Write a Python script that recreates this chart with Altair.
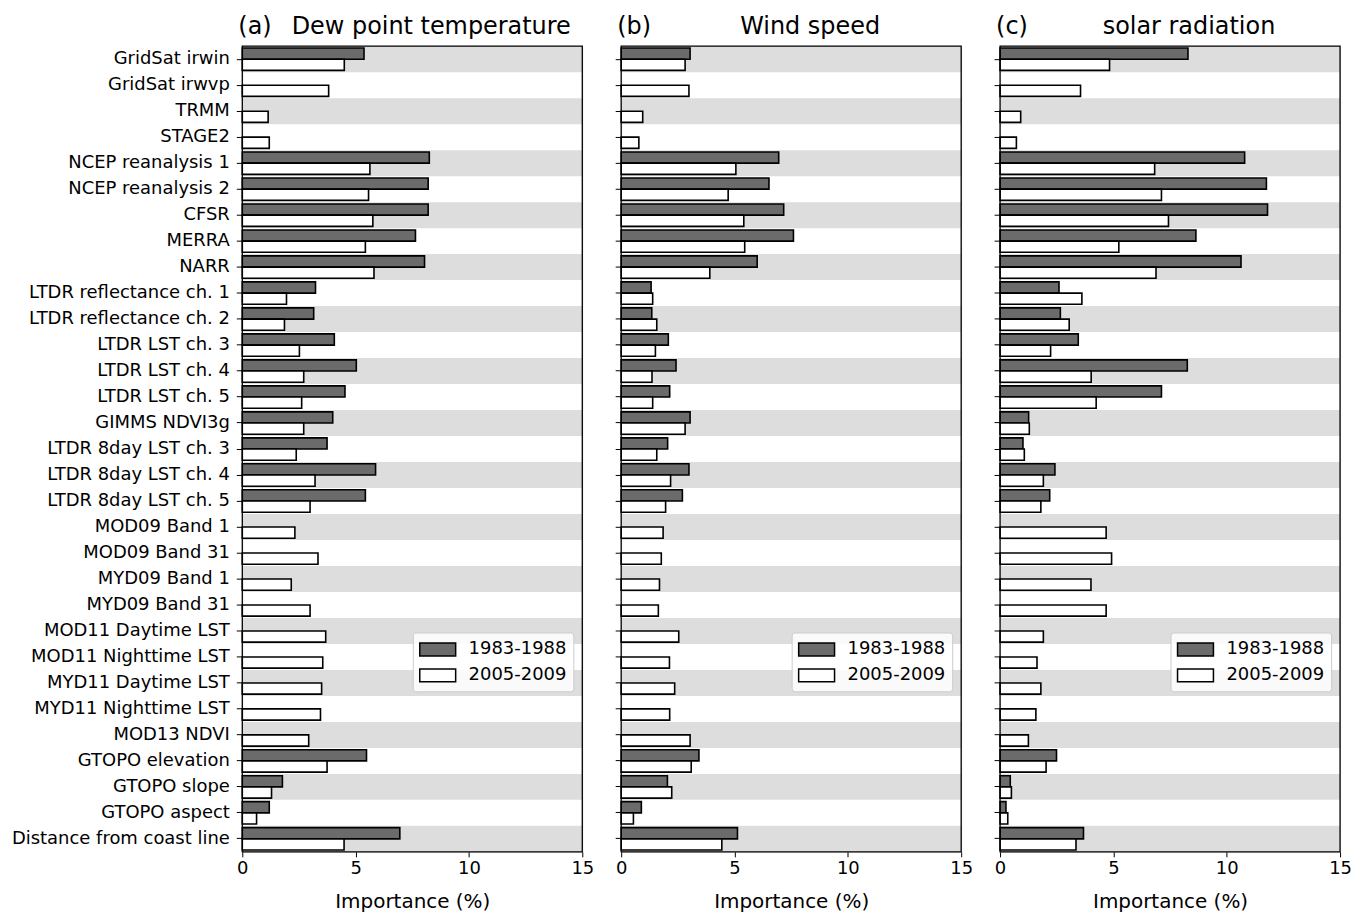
import altair as alt
import pandas as pd

categories = [
    "GridSat irwin", "GridSat irwvp", "TRMM", "STAGE2",
    "NCEP reanalysis 1", "NCEP reanalysis 2", "CFSR", "MERRA", "NARR",
    "LTDR reflectance ch. 1", "LTDR reflectance ch. 2",
    "LTDR LST ch. 3", "LTDR LST ch. 4", "LTDR LST ch. 5", "GIMMS NDVI3g",
    "LTDR 8day LST ch. 3", "LTDR 8day LST ch. 4", "LTDR 8day LST ch. 5",
    "MOD09 Band 1", "MOD09 Band 31", "MYD09 Band 1", "MYD09 Band 31",
    "MOD11 Daytime LST", "MOD11 Nighttime LST", "MYD11 Daytime LST", "MYD11 Nighttime LST",
    "MOD13 NDVI", "GTOPO elevation", "GTOPO slope", "GTOPO aspect",
    "Distance from coast line",
]
periods = ["1983-1988", "2005-2009"]

N9 = [None] * 9
dew_1983 = [5.37, None, None, None, 8.25, 8.20, 8.20, 7.64, 8.04, 3.23, 3.15, 4.06, 5.03, 4.53,
            3.99, 3.74, 5.88, 5.43] + N9 + [5.48, 1.77, 1.19, 6.95]
dew_2005 = [4.50, 3.81, 1.14, 1.19, 5.63, 5.57, 5.76, 5.43, 5.81, 1.95, 1.86, 2.52, 2.71, 2.62,
            2.71, 2.38, 3.21, 2.99, 2.32, 3.34, 2.16, 2.99, 3.68, 3.55, 3.50, 3.45, 2.93, 3.74,
            1.29, 0.63, 4.49]
wind_1983 = [3.04, None, None, None, 6.95, 6.52, 7.17, 7.60, 6.00, 1.32, 1.35, 2.08, 2.42, 2.14,
             3.04, 2.05, 2.99, 2.70] + N9 + [3.43, 2.04, 0.89, 5.13]
wind_2005 = [2.82, 2.99, 0.95, 0.78, 5.06, 4.72, 5.41, 5.45, 3.91, 1.39, 1.57, 1.51, 1.36, 1.39,
             2.82, 1.57, 2.18, 1.96, 1.85, 1.77, 1.69, 1.64, 2.54, 2.13, 2.36, 2.14, 3.04, 3.09,
             2.23, 0.54, 4.44]
solar_1983 = [8.29, None, None, None, 10.79, 11.75, 11.80, 8.64, 10.63, 2.60, 2.66, 3.45, 8.26, 7.12,
              1.26, 1.01, 2.42, 2.19] + N9 + [2.49, 0.45, 0.26, 3.68]
solar_2005 = [4.83, 3.55, 0.91, 0.72, 6.82, 7.12, 7.43, 5.24, 6.88, 3.61, 3.05, 2.23, 4.02, 4.24,
              1.29, 1.07, 1.91, 1.80, 4.68, 4.92, 4.01, 4.68, 1.91, 1.63, 1.80, 1.58, 1.25, 2.03,
              0.50, 0.34, 3.35]

panel_letters = ["(a)", "(b)", "(c)"]
panel_titles = ["Dew point temperature", "Wind speed", "solar radiation"]
panel_values = [(dew_1983, dew_2005), (wind_1983, wind_2005), (solar_1983, solar_2005)]

FONT = "DejaVu Sans"
W, H = 341, 808
DARK = "#6b6b6b"
BAND = "#dddddd"


def make_panel(i):
    v1, v2 = panel_values[i]
    rows = []
    for c, a, b in zip(categories, v1, v2):
        if a is not None:
            rows.append({"feature": c, "period": periods[0], "importance": a})
        if b is not None:
            rows.append({"feature": c, "period": periods[1], "importance": b})
    bars_df = pd.DataFrame(rows)
    band_df = pd.DataFrame({"feature": categories[::2]})

    yaxis = alt.Axis(title=None, labels=(i == 0), ticks=True, tickSize=6, tickColor="black",
                     domain=False, labelPadding=7, labelFontSize=18, labelLimit=400,
                     labelColor="black", labelFont=FONT)
    yenc = alt.Y("feature:N", sort=categories,
                 scale=alt.Scale(domain=categories, paddingInner=0, paddingOuter=0),
                 axis=yaxis)

    bands = alt.Chart(band_df).mark_rect(color=BAND).encode(
        y=yenc, x=alt.value(0), x2=alt.value(W)
    )

    xaxis = alt.Axis(values=[0, 5, 10, 15], format="d", title="Importance (%)",
                     titleFontSize=20, titleFont=FONT, titleFontWeight="normal",
                     titleColor="black", labelFontSize=18, labelFont=FONT,
                     labelColor="black", tickSize=5, tickColor="black", domain=False,
                     grid=False, labelPadding=3, titlePadding=14, labelFlush=False)

    legend = alt.Legend(title=None, orient="none", legendX=171, legendY=588,
                        symbolType="M-1,-0.65H2.6V0.65H-1Z", symbolSize=400,
                        symbolStrokeColor="black", symbolStrokeWidth=1.5, symbolOpacity=1,
                        labelFontSize=18, labelFont=FONT, labelColor="black",
                        labelOffset=28, padding=6, rowPadding=5,
                        strokeColor="#cccccc", fillColor="rgba(255,255,255,0.85)",
                        cornerRadius=3)

    bars = alt.Chart(bars_df).mark_bar(stroke="black", strokeWidth=1.6).encode(
        x=alt.X("importance:Q", scale=alt.Scale(domain=[0, 15], nice=False), axis=xaxis),
        y=yenc,
        yOffset=alt.YOffset("period:N", sort=periods,
                            scale=alt.Scale(domain=periods, paddingInner=0, paddingOuter=0.16)),
        fill=alt.Fill("period:N", sort=periods,
                      scale=alt.Scale(domain=periods, range=[DARK, "#ffffff"]),
                      legend=legend),
    )

    frame = alt.Chart(pd.DataFrame({"f": [0]})).mark_rect(
        filled=False, stroke="black", strokeWidth=1.3
    ).encode(x=alt.value(0), x2=alt.value(W), y=alt.value(0), y2=alt.value(H))

    letter = alt.Chart(pd.DataFrame({"t": [panel_letters[i]]})).mark_text(
        align="left", baseline="alphabetic", fontSize=24, font=FONT, color="black"
    ).encode(text="t:N", x=alt.value(-4), y=alt.value(-12))

    title = alt.Chart(pd.DataFrame({"t": [panel_titles[i]]})).mark_text(
        align="center", baseline="alphabetic", fontSize=24, font=FONT, color="black"
    ).encode(text="t:N", x=alt.value(W / 2 + 19), y=alt.value(-12))

    return alt.layer(bands, bars, frame, letter, title).properties(width=W, height=H)


chart = alt.hconcat(
    make_panel(0), make_panel(1), make_panel(2), spacing=39, bounds="flush"
).resolve_scale(fill="independent").resolve_legend(fill="independent").properties(
    padding={"left": 10, "top": 13, "right": 10, "bottom": 5}, background="white"
).configure_view(stroke="black", strokeWidth=1.2).configure(font=FONT)

chart.save("out.html", embed_options={"renderer": "svg", "actions": False})
